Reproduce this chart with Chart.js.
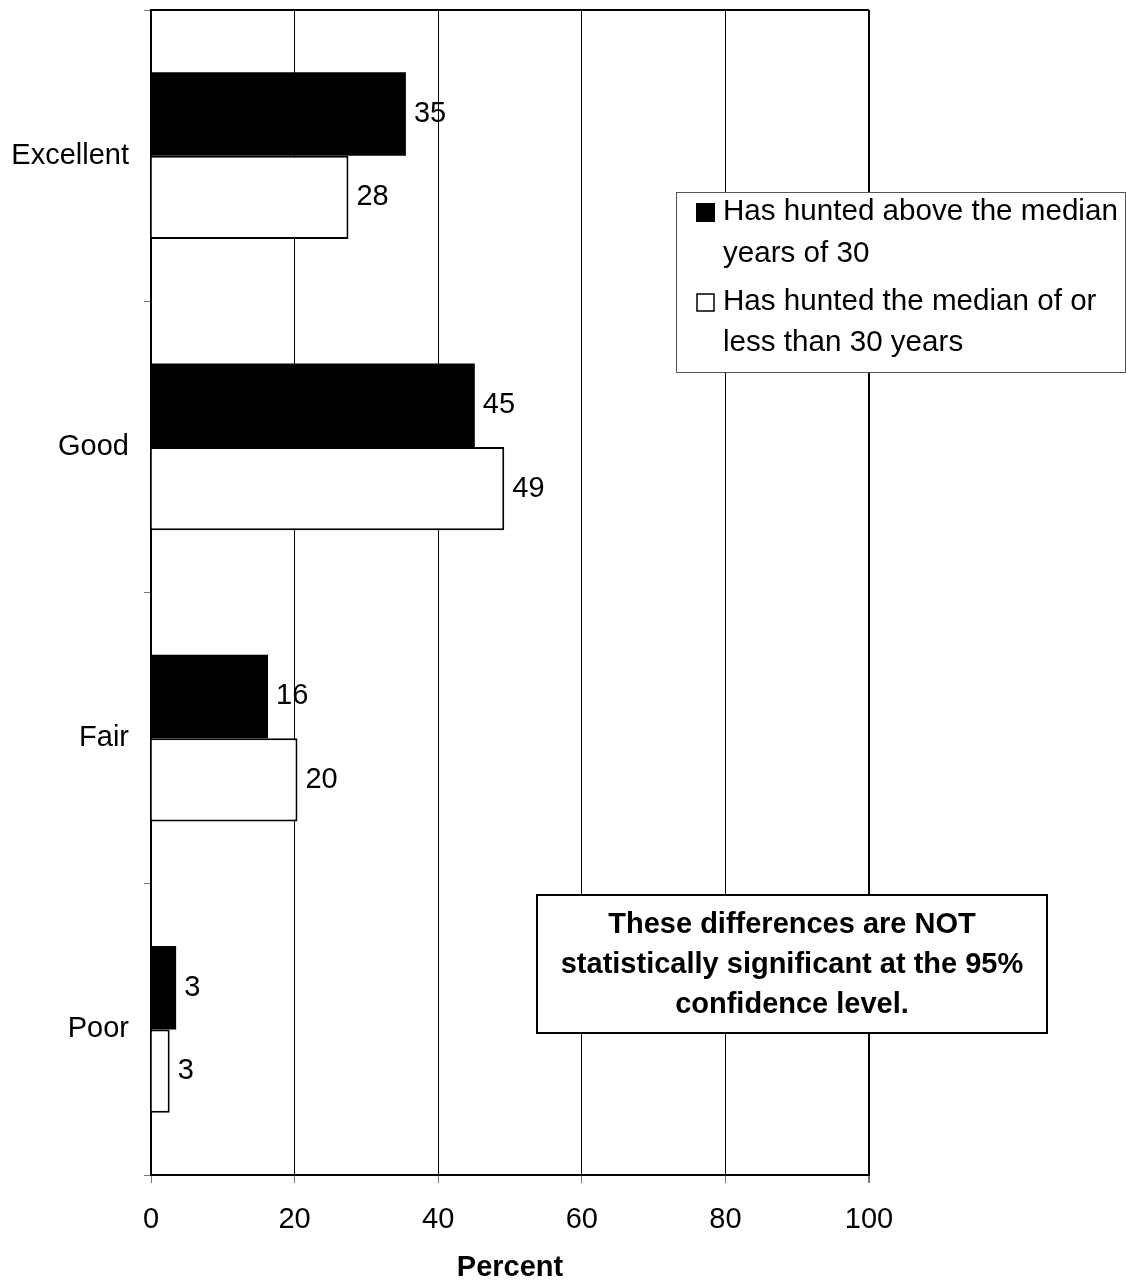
<!DOCTYPE html>
<html lang="en">
<head>
<meta charset="UTF-8">
<title>Hunting quality by years hunted</title>
<script src="https://cdn.jsdelivr.net/npm/chart.js"></script>
<style>
    html, body { margin: 0; padding: 0; background: #fff; }
    #wrap { width: 1126px; height: 1284px; }
</style>
</head>
<body>
<div id="wrap"><canvas id="grafica" width="1126" height="1284"></canvas></div>
<script>
const categorias = ['Excellent', 'Good', 'Fair', 'Poor'];
const serieArriba = [35.5, 45.1, 16.3, 3.5];   // above the median
const serieAbajo = [27.5, 49.2, 20.4, 2.6];    // median or less
const etiquetasArriba = [35, 45, 16, 3];
const etiquetasAbajo = [28, 49, 20, 3];
const ticksX = [0, 20, 40, 60, 80, 100];
const leyenda = [
    ['Has hunted above the median', 'years of 30'],
    ['Has hunted the median of or', 'less than 30 years']
];
const nota = ['These differences are NOT', 'statistically significant at the 95%', 'confidence level.'];

const FUENTE = '"Liberation Sans", Arial, sans-serif';
const TAM = 29;

// etiquetas de valor, borde superior, leyenda y nota
const extras = {
    id: 'extras',
    afterDatasetsDraw(chart) {
        const ctx = chart.ctx;
        const area = chart.chartArea;
        ctx.save();
        // borde superior
        ctx.strokeStyle = '#000';
        ctx.lineWidth = 2;
        ctx.beginPath();
        ctx.moveTo(area.left, area.top);
        ctx.lineTo(area.right, area.top);
        ctx.stroke();

        // valores
        ctx.font = TAM + 'px ' + FUENTE;
        ctx.fillStyle = '#000';
        ctx.textBaseline = 'middle';
        ctx.textAlign = 'left';
        const etiquetas = [etiquetasArriba, etiquetasAbajo];
        chart.data.datasets.forEach((ds, i) => {
            chart.getDatasetMeta(i).data.forEach((bar, j) => {
                ctx.fillText(String(etiquetas[i][j]), bar.x + 8, bar.y);
            });
        });

        // leyenda
        const lx = 676, ly = 192, lw = 449, lh = 180;
        ctx.fillStyle = '#fff';
        ctx.fillRect(lx, ly, lw, lh);
        ctx.strokeStyle = '#555';
        ctx.lineWidth = 1;
        ctx.strokeRect(lx + 0.5, ly + 0.5, lw, lh);
        const centros = [[212, 254], [302, 343]];
        leyenda.forEach((lineas, i) => {
            const cy = centros[i][0];
            if (i === 0) {
                ctx.fillStyle = '#000';
                ctx.fillRect(696, cy - 9, 19, 19);
            } else {
                ctx.strokeStyle = '#000';
                ctx.lineWidth = 1.5;
                ctx.strokeRect(697, cy - 8, 17, 17);
            }
            ctx.fillStyle = '#000';
            ctx.font = '29.6px ' + FUENTE;
            ctx.textAlign = 'left';
            ctx.fillText(lineas[0], 723, centros[i][0]);
            ctx.fillText(lineas[1], 723, centros[i][1]);
        });

        // nota
        const nx = 537, ny = 895, nw = 510, nh = 138;
        ctx.fillStyle = '#fff';
        ctx.fillRect(nx, ny, nw, nh);
        ctx.strokeStyle = '#000';
        ctx.lineWidth = 2;
        ctx.strokeRect(nx, ny, nw, nh);
        ctx.fillStyle = '#000';
        ctx.font = 'bold ' + TAM + 'px ' + FUENTE;
        ctx.textAlign = 'center';
        const ys = [925, 965, 1005];
        nota.forEach((t, i) => ctx.fillText(t, nx + nw / 2, ys[i]));
        ctx.restore();
    }
};

new Chart(document.getElementById('grafica'), {
    type: 'bar',
    data: {
        labels: categorias,
        datasets: [{
            label: leyenda[0].join(' '),
            data: serieArriba,
            backgroundColor: '#000',
            borderColor: '#000',
            borderWidth: 0
        }, {
            label: leyenda[1].join(' '),
            data: serieAbajo,
            backgroundColor: '#fff',
            borderColor: '#000',
            borderWidth: 2
        }]
    },
    options: {
        indexAxis: 'y',
        responsive: false,
        animation: false,
        events: [],
        categoryPercentage: 0.573,
        barPercentage: 1,
        layout: { padding: { left: 0, right: 257, top: 10, bottom: 0 } },
        plugins: { legend: { display: false }, tooltip: { enabled: false } },
        scales: {
            x: {
                min: 0,
                max: 100,
                afterBuildTicks: s => { s.ticks = ticksX.map(v => ({ value: v })); },
                afterFit: s => { s.height = 109; s.paddingLeft = 0; s.paddingRight = 0; },
                grid: {
                    color: '#000',
                    lineWidth: c => (c.tick && c.tick.value === 100 ? 2 : 1),
                    tickColor: '#777',
                    tickLength: 8
                },
                border: { display: true, color: '#000', width: 2 },
                ticks: { color: '#000', font: { size: TAM, family: FUENTE }, padding: 20 },
                title: {
                    display: true,
                    text: 'Percent',
                    color: '#000',
                    font: { size: TAM, weight: 'bold', family: FUENTE },
                    padding: { top: 0, bottom: -1 }
                }
            },
            y: {
                afterFit: s => { s.width = 151; s.paddingTop = 0; s.paddingBottom = 0; },
                grid: {
                    offset: true,
                    drawOnChartArea: false,
                    tickColor: '#777',
                    tickLength: 7
                },
                border: { display: true, color: '#000', width: 2 },
                ticks: { color: '#000', font: { size: TAM, family: FUENTE }, padding: 15 }
            }
        }
    },
    plugins: [extras]
});
</script>
</body>
</html>
